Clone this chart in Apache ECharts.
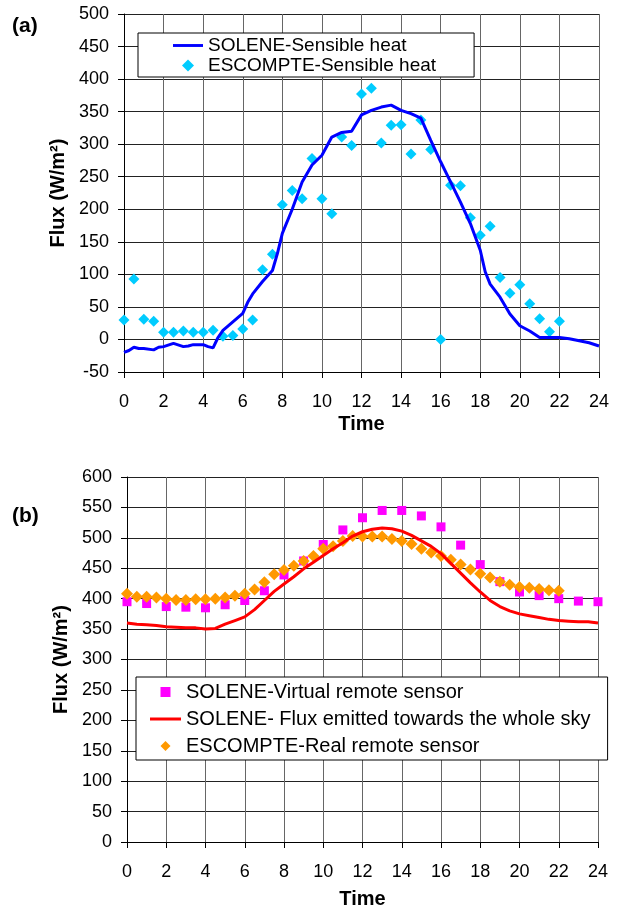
<!DOCTYPE html>
<html>
<head>
<meta charset="utf-8">
<script src="https://cdn.jsdelivr.net/npm/echarts@6/dist/echarts.min.js"></script>
<style>
  html, body { margin: 0; padding: 0; background: #fff; }
  #chart { width: 617px; height: 910px; }
</style>
</head>
<body>
<div id="chart"></div>
<script>
// (a) sensible heat
var solTime = [0, 0.25, 0.5, 0.75, 1, 1.5, 1.75, 2, 2.5, 3, 3.25, 3.5, 4, 4.25, 4.5, 4.75, 5, 5.5, 6, 6.25, 6.5, 7, 7.5, 7.75, 8, 8.5, 9, 9.5, 10, 10.5, 11, 11.5, 12, 12.5, 13, 13.5, 14, 14.5, 15, 15.5, 16, 16.5, 17, 17.5, 18, 18.25, 18.5, 19, 19.5, 20, 20.5, 21, 21.5, 22, 22.5, 23, 23.5, 24];
var solFlux = [-20, -17, -12, -14, -14, -16, -12, -11, -6, -11, -10, -8, -8, -11, -13, 3, 14, 27, 40, 57, 70, 89, 106, 132, 163, 200, 242, 268, 283, 311, 318, 320, 345, 352, 357, 360, 352, 347, 340, 306, 273, 242, 211, 178, 137, 104, 85, 65, 39, 21, 13, 3, 3, 3, 1, -2, -5, -10];

var escTime = [0, 0.5, 1, 1.5, 2, 2.5, 3, 3.5, 4, 4.5, 5, 5.5, 6, 6.5, 7, 7.5, 8, 8.5, 9, 9.5, 10, 10.5, 11, 11.5, 12, 12.5, 13, 13.5, 14, 14.5, 15, 15.5, 16, 16.5, 17, 17.5, 18, 18.5, 19, 19.5, 20, 20.5, 21, 21.5, 22];
var escFlux = [30, 93, 31, 28, 11, 11, 13, 11, 11, 14, 5, 6, 16, 30, 107, 131, 207, 229, 216, 278, 216, 193, 311, 298, 377, 386, 302, 329, 330, 285, 337, 292, 0, 237, 236, 187, 160, 174, 95, 71, 84, 55, 32, 12, 28];

// (b) remote sensors
var virtTime = [0, 1, 2, 3, 4, 5, 6, 7, 8, 9, 10, 11, 12, 13, 14, 15, 16, 17, 18, 19, 20, 21, 22, 23, 24];
var virtFlux = [395, 392, 387, 386, 385, 390, 397, 413, 439, 462, 489, 513, 533, 545, 545, 536, 518, 488, 456, 428, 411, 405, 400, 396, 395];

var skyTime = [0, 0.5, 1, 1.5, 2, 2.5, 3, 3.5, 4, 4.5, 5, 5.5, 6, 6.5, 7, 7.5, 8, 8.5, 9, 9.5, 10, 10.5, 11, 11.5, 12, 12.5, 13, 13.5, 14, 14.5, 15, 15.5, 16, 16.5, 17, 17.5, 18, 18.5, 19, 19.5, 20, 20.5, 21, 21.5, 22, 22.5, 23, 23.5, 24];
var skyFlux = [360, 358, 357, 356, 354, 353, 352, 352, 350, 351, 358, 364, 370, 382, 397, 412, 424, 436, 449, 460, 471, 482, 492, 503, 510, 514, 516, 515, 511, 504, 495, 486, 474, 458, 442, 426, 411, 397, 387, 380, 375, 372, 369, 366, 364, 363, 362, 362, 360];

var realTime = [0, 0.5, 1, 1.5, 2, 2.5, 3, 3.5, 4, 4.5, 5, 5.5, 6, 6.5, 7, 7.5, 8, 8.5, 9, 9.5, 10, 10.5, 11, 11.5, 12, 12.5, 13, 13.5, 14, 14.5, 15, 15.5, 16, 16.5, 17, 17.5, 18, 18.5, 19, 19.5, 20, 20.5, 21, 21.5, 22];
var realFlux = [408, 403, 403, 402, 400, 398, 398, 399, 399, 400, 402, 405, 408, 415, 427, 440, 447, 454, 462, 470, 482, 486, 495, 503, 502, 502, 502, 498, 495, 490, 482, 476, 470, 464, 456, 448, 441, 435, 428, 423, 419, 418, 416, 414, 413];

function pairs(xs, ys) {
  return xs.map(function (x, i) { return [x, ys[i]]; });
}

var font = 'Liberation Sans, Arial, sans-serif';
// legend swatches as paths so they keep their aspect ratio
var lineIcon = 'path://M0,0H31V3H0Z';
var diamondIcon = 'path://M5,0L10,5L5,10L0,5Z';
var squareIcon = 'path://M0,0H10V10H0Z';

function xAxisFor(gridIndex, gap) {
  return {
    gridIndex: gridIndex,
    type: 'value',
    min: 0, max: 24, interval: 2,
    name: 'Time',
    nameLocation: 'middle',
    nameGap: gap,
    nameTextStyle: { fontFamily: font, fontSize: 20, fontWeight: 'bold', color: '#000' },
    axisLine: { show: true, onZero: false, lineStyle: { color: '#000', width: 1 } },
    axisTick: { show: true, length: 6, lineStyle: { color: '#000' } },
    axisLabel: { fontFamily: font, fontSize: 18, color: '#000', margin: 21 },
    splitLine: { show: true, lineStyle: { color: '#666', width: 1 } }
  };
}

function yAxisFor(gridIndex, min, max) {
  return {
    gridIndex: gridIndex,
    type: 'value',
    min: min, max: max, interval: 50,
    name: 'Flux (W/m²)',
    nameLocation: 'middle',
    nameGap: 56,
    nameTextStyle: { fontFamily: font, fontSize: 20, fontWeight: 'bold', color: '#000' },
    axisLine: { show: true, onZero: false, lineStyle: { color: '#000', width: 1 } },
    axisTick: { show: true, length: 6, lineStyle: { color: '#000' } },
    axisLabel: { fontFamily: font, fontSize: 18, color: '#000', margin: 15 },
    splitLine: { show: true, lineStyle: { color: '#222', width: 1 } }
  };
}

var chart = echarts.init(document.getElementById('chart'));
chart.setOption({
  animation: false,
  backgroundColor: '#fff',
  title: [
    { text: '(a)', left: 12, top: 16, padding: 0, textStyle: { fontFamily: font, fontSize: 21, fontWeight: 'bold', color: '#000' } },
    { text: '(b)', left: 12, top: 506, padding: 0, textStyle: { fontFamily: font, fontSize: 21, fontWeight: 'bold', color: '#000' } }
  ],
  grid: [
    { left: 124, right: 18, top: 14, height: 358 },
    { left: 127, right: 19, top: 477, height: 371 }
  ],
  xAxis: [xAxisFor(0, 42), xAxisFor(1, 47)],
  yAxis: [yAxisFor(0, -50, 500), yAxisFor(1, 0, 600)],
  legend: [
    {
      left: 138, top: 33, orient: 'vertical',
      backgroundColor: '#fff', borderColor: '#000', borderWidth: 1,
      padding: [3, 38, 2, 35],
      itemWidth: 30, itemHeight: 12, itemGap: 1,
      symbolKeepAspect: true,
      textStyle: { fontFamily: font, fontSize: 19, lineHeight: 19, color: '#000' },
      data: [
        { name: 'SOLENE-Sensible heat', icon: lineIcon },
        { name: 'ESCOMPTE-Sensible heat', icon: diamondIcon }
      ]
    },
    {
      left: 136, top: 677, orient: 'vertical',
      backgroundColor: '#fff', borderColor: '#000', borderWidth: 1,
      padding: [5, 17, 4, 14],
      itemWidth: 31, itemHeight: 10, itemGap: 7,
      symbolKeepAspect: true,
      textStyle: { fontFamily: font, fontSize: 20, lineHeight: 20, color: '#000' },
      data: [
        { name: 'SOLENE-Virtual remote sensor', icon: squareIcon },
        { name: 'SOLENE- Flux emitted towards the whole sky', icon: lineIcon },
        { name: 'ESCOMPTE-Real remote sensor', icon: diamondIcon }
      ]
    }
  ],
  series: [
    {
      name: 'SOLENE-Sensible heat', type: 'line', xAxisIndex: 0, yAxisIndex: 0,
      data: pairs(solTime, solFlux), symbol: 'none',
      lineStyle: { color: '#0000ff', width: 3 }, itemStyle: { color: '#0000ff' }
    },
    {
      name: 'ESCOMPTE-Sensible heat', type: 'scatter', xAxisIndex: 0, yAxisIndex: 0,
      data: pairs(escTime, escFlux), symbol: 'diamond', symbolSize: 11,
      itemStyle: { color: '#00ccff', opacity: 1 }
    },
    {
      name: 'SOLENE-Virtual remote sensor', type: 'scatter', xAxisIndex: 1, yAxisIndex: 1,
      data: pairs(virtTime, virtFlux), symbol: 'rect', symbolSize: 9,
      itemStyle: { color: '#ff00ff', opacity: 1 }
    },
    {
      name: 'SOLENE- Flux emitted towards the whole sky', type: 'line', xAxisIndex: 1, yAxisIndex: 1,
      data: pairs(skyTime, skyFlux), symbol: 'none',
      lineStyle: { color: '#ff0000', width: 3 }, itemStyle: { color: '#ff0000' }
    },
    {
      name: 'ESCOMPTE-Real remote sensor', type: 'scatter', xAxisIndex: 1, yAxisIndex: 1,
      data: pairs(realTime, realFlux), symbol: 'diamond', symbolSize: 12,
      itemStyle: { color: '#ff9900', opacity: 1 }
    }
  ]
});
</script>
</body>
</html>
